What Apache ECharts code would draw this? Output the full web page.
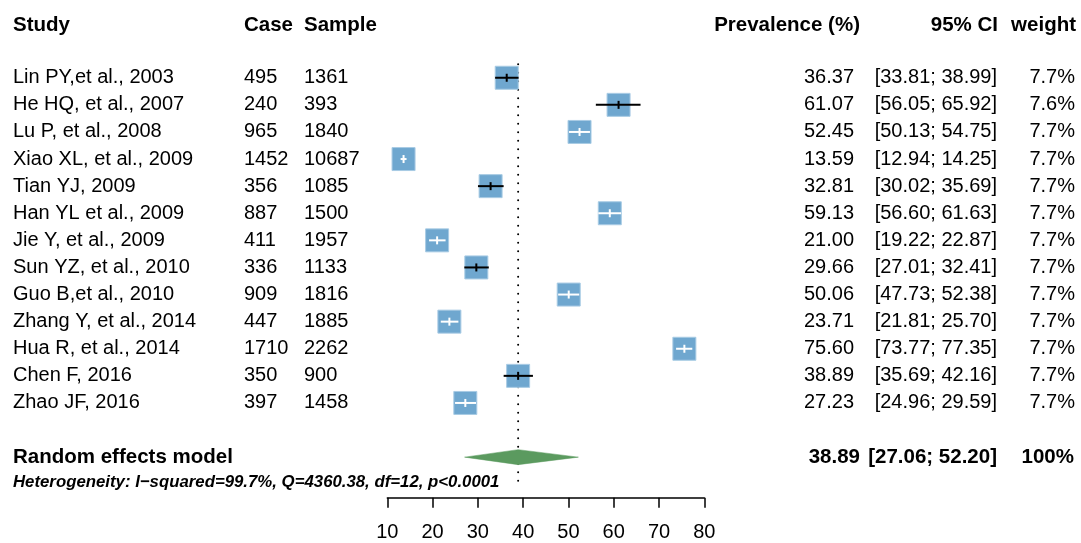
<!DOCTYPE html>
<html>
<head>
<meta charset="utf-8">
<script src="https://cdn.jsdelivr.net/npm/echarts@6/dist/echarts.min.js"></script>
<style>
  html, body { margin: 0; padding: 0; background: #fff; }
  #charts { width: 1081px; height: 543px; }
</style>
</head>
<body>
<div id="charts"></div>
<script>
var studies = ['Lin PY,et al., 2003', 'He HQ, et al., 2007', 'Lu P, et al., 2008', 'Xiao XL, et al., 2009',
    'Tian YJ, 2009', 'Han YL et al., 2009', 'Jie Y, et al., 2009', 'Sun YZ, et al., 2010', 'Guo B,et al., 2010',
    'Zhang Y, et al., 2014', 'Hua R, et al., 2014', 'Chen F, 2016', 'Zhao JF, 2016'];
var cases = [495, 240, 965, 1452, 356, 887, 411, 336, 909, 447, 1710, 350, 397];
var samples = [1361, 393, 1840, 10687, 1085, 1500, 1957, 1133, 1816, 1885, 2262, 900, 1458];
var prevalence = [36.37, 61.07, 52.45, 13.59, 32.81, 59.13, 21.00, 29.66, 50.06, 23.71, 75.60, 38.89, 27.23];
var ciLow = [33.81, 56.05, 50.13, 12.94, 30.02, 56.60, 19.22, 27.01, 47.73, 21.81, 73.77, 35.69, 24.96];
var ciHigh = [38.99, 65.92, 54.75, 14.25, 35.69, 61.63, 22.87, 32.41, 52.38, 25.70, 77.35, 42.16, 29.59];
var weights = ['7.7%', '7.6%', '7.7%', '7.7%', '7.7%', '7.7%', '7.7%', '7.7%', '7.7%', '7.7%', '7.7%', '7.7%', '7.7%'];
var pooled = [38.89, 27.06, 52.20];   // estimate, lower, upper
var pooledWeight = '100%';
var xTicks = [10, 20, 30, 40, 50, 60, 70, 80];
var heterogeneity = 'Heterogeneity: I\u2212squared=99.7%, Q=4360.38, df=12, p<0.0001';

var FONT = '"Liberation Sans", Arial, Helvetica, sans-serif';
var pooledRow = 14;
var hetRow = 15;

var myChart = echarts.init(document.getElementById('charts'));

var studyData = prevalence.map(function (p, i) { return [p, i, ciLow[i], ciHigh[i]]; });

function txt(x, y, s, align, bold, size, italic) {
    return {
        type: 'text',
        style: {
            x: x, y: y, text: s, align: align || 'left', verticalAlign: 'middle',
            font: (italic ? 'italic ' : '') + (bold ? 'bold ' : '') + (size || 20) + 'px ' + FONT,
            fill: '#000'
        }
    };
}

var option = {
    animation: false,
    backgroundColor: '#fff',
    grid: { left: 387.3, right: 376.7, top: 64.2, bottom: 45.2 },
    xAxis: {
        type: 'value',
        position: 'bottom',
        min: xTicks[0],
        max: xTicks[xTicks.length - 1],
        interval: 10,
        splitLine: { show: false },
        axisLine: { show: true, onZero: false, lineStyle: { color: '#000', width: 1.5 } },
        axisTick: { show: true, length: 10, lineStyle: { color: '#000', width: 1.5 } },
        axisLabel: { color: '#000', fontSize: 20, fontFamily: FONT, margin: 25 }
    },
    yAxis: {
        type: 'value',
        inverse: true,
        min: -0.5,
        max: 15.5,
        show: false
    },
    graphic: [
        txt(13, 25, 'Study', 'left', true, 20.5),
        txt(244, 25, 'Case', 'left', true, 20.5),
        txt(304, 25, 'Sample', 'left', true, 20.5),
        txt(860, 25, 'Prevalence (%)', 'right', true, 20.5),
        txt(998, 25, '95% CI', 'right', true, 20.5),
        txt(1076, 25, 'weight', 'right', true, 20.5)
    ],
    series: [
        {
            // dotted line at pooled estimate
            type: 'custom',
            data: [[pooled[0]]],
            renderItem: function (params, api) {
                var a = api.coord([api.value(0), -0.5]);
                var b = api.coord([api.value(0), 15.1]);
                return {
                    type: 'line',
                    shape: { x1: a[0], y1: a[1], x2: b[0], y2: b[1] },
                    style: { stroke: '#000', lineWidth: 2, lineDash: [0.1, 8.4], lineCap: 'round' }
                };
            }
        },
        {
            // study squares and confidence intervals
            type: 'custom',
            data: studyData,
            renderItem: function (params, api) {
                var c = api.coord([api.value(0), api.value(1)]);
                var lo = api.coord([api.value(2), api.value(1)]);
                var hi = api.coord([api.value(3), api.value(1)]);
                var s = 23;
                var inside = lo[0] >= c[0] - s / 2 && hi[0] <= c[0] + s / 2;
                var col = inside ? '#fff' : '#000';
                return {
                    type: 'group',
                    children: [
                        {
                            type: 'rect',
                            shape: { x: c[0] - s / 2, y: c[1] - s / 2, width: s, height: s },
                            style: { fill: '#6fa7cf', stroke: '#a8cbe4', lineWidth: 1 }
                        },
                        {
                            type: 'line',
                            shape: { x1: lo[0], y1: c[1], x2: hi[0], y2: c[1] },
                            style: { stroke: col, lineWidth: 2 }
                        },
                        {
                            type: 'line',
                            shape: { x1: c[0], y1: c[1] - 4, x2: c[0], y2: c[1] + 4 },
                            style: { stroke: col, lineWidth: 2 }
                        }
                    ]
                };
            }
        },
        {
            // pooled diamond
            type: 'custom',
            data: [[pooled[0], pooledRow, pooled[1], pooled[2]]],
            renderItem: function (params, api) {
                var c = api.coord([api.value(0), api.value(1)]);
                var lo = api.coord([api.value(2), api.value(1)]);
                var hi = api.coord([api.value(3), api.value(1)]);
                var h = 7.5;
                return {
                    type: 'polygon',
                    shape: { points: [[lo[0], c[1]], [c[0], c[1] - h], [hi[0], c[1]], [c[0], c[1] + h]] },
                    style: { fill: '#5b9a5f', stroke: '#5b9a5f', lineWidth: 0.5 }
                };
            }
        },
        {
            // study table text
            type: 'custom',
            data: studyData,
            renderItem: function (params, api) {
                var i = params.dataIndex;
                var y = api.coord([10, i])[1];
                return {
                    type: 'group',
                    children: [
                        txt(13, y, studies[i]),
                        txt(244, y, String(cases[i])),
                        txt(304, y, String(samples[i])),
                        txt(854, y, prevalence[i].toFixed(2), 'right'),
                        txt(997, y, '[' + ciLow[i].toFixed(2) + '; ' + ciHigh[i].toFixed(2) + ']', 'right'),
                        txt(1075, y, weights[i], 'right')
                    ]
                };
            }
        },
        {
            // pooled row and heterogeneity text
            type: 'custom',
            data: [[pooled[0], pooledRow]],
            renderItem: function (params, api) {
                var y = api.coord([10, pooledRow])[1];
                var yh = api.coord([10, hetRow])[1] - 2;
                return {
                    type: 'group',
                    children: [
                        txt(13, y, 'Random effects model', 'left', true, 20.5),
                        txt(860, y, pooled[0].toFixed(2), 'right', true, 20.5),
                        txt(997, y, '[' + pooled[1].toFixed(2) + '; ' + pooled[2].toFixed(2) + ']', 'right', true, 20.5),
                        txt(1074, y, pooledWeight, 'right', true, 20.5),
                        txt(13, yh, heterogeneity, 'left', true, 16.8, true)
                    ]
                };
            }
        }
    ]
};

myChart.setOption(option);
</script>
</body>
</html>
